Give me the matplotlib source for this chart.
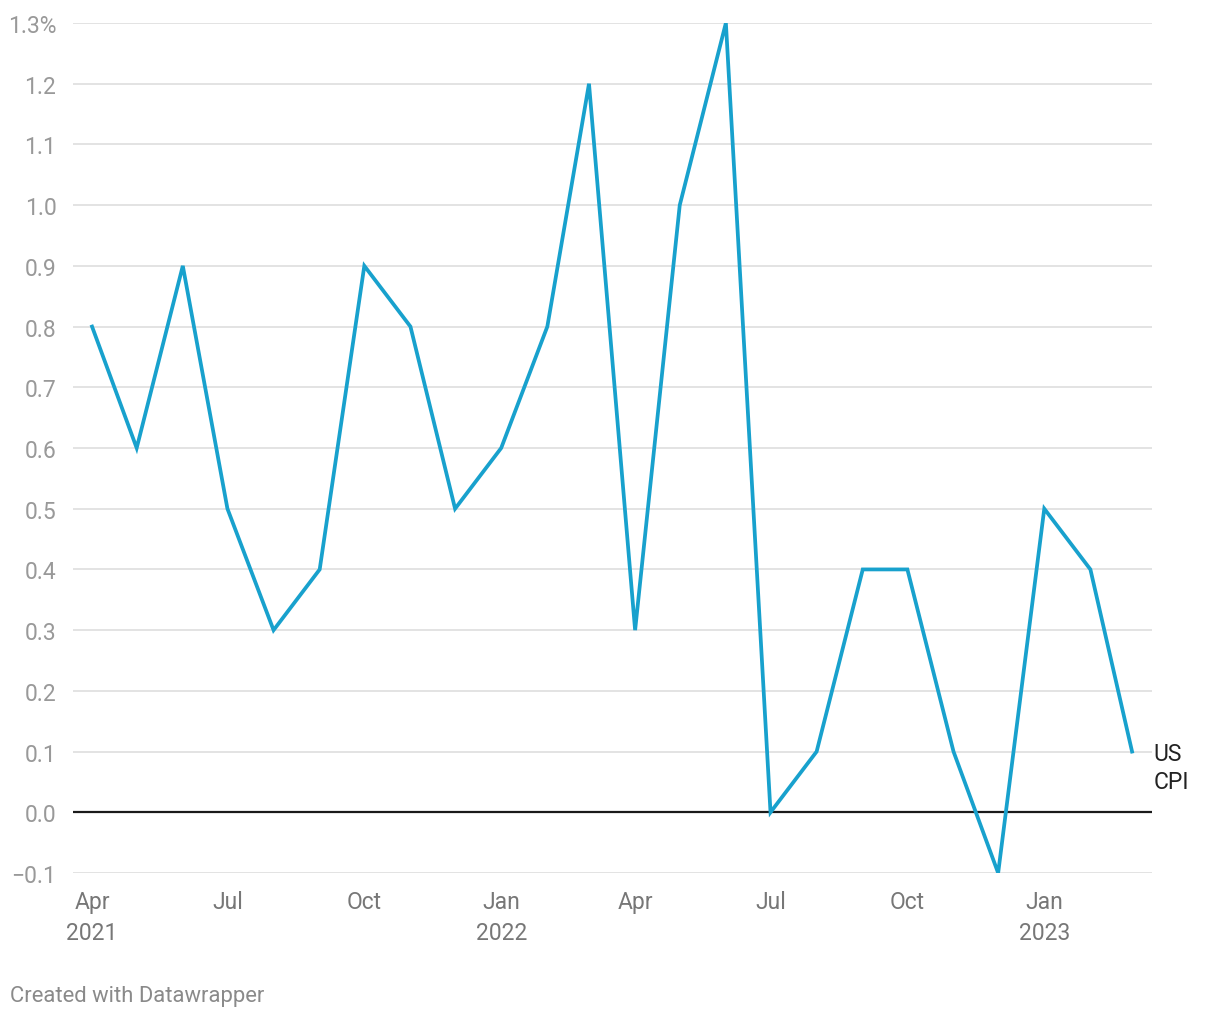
import matplotlib.pyplot as plt
import matplotlib.dates as mdates
import pandas as pd

plt.rcParams['font.family'] = ['Roboto', 'DejaVu Sans']

months = pd.date_range('2021-04-01', '2023-03-01', freq='MS')
cpi = [0.8, 0.6, 0.9, 0.5, 0.3, 0.4, 0.9, 0.8, 0.5, 0.6, 0.8, 1.2,
       0.3, 1.0, 1.3, 0.0, 0.1, 0.4, 0.4, 0.1, -0.1, 0.5, 0.4, 0.1]

yticks = [-0.1, 0.0, 0.1, 0.2, 0.3, 0.4, 0.5, 0.6, 0.7, 0.8, 0.9, 1.0, 1.1, 1.2, 1.3]
xtick_dates = pd.to_datetime(['2021-04-01', '2021-07-01', '2021-10-01', '2022-01-01',
                              '2022-04-01', '2022-07-01', '2022-10-01', '2023-01-01',
                              ])
xtick_labels = ['Apr\n2021', 'Jul', 'Oct', 'Jan\n2022', 'Apr', 'Jul', 'Oct', 'Jan\n2023']

fig = plt.figure(figsize=(12.2, 10.2), dpi=100)
ax = fig.add_axes([73 / 1220, 1 - 874 / 1020, (1152 - 73) / 1220, (874 - 24) / 1020])

for v in yticks:
    if v == 0.0:
        ax.axhline(v, color='#1a1a1a', lw=1.6, zorder=2)
    else:
        ax.axhline(v, color='#e3e3e3', lw=1.4, zorder=1)

ax.plot(months, cpi, color='#18a1cd', lw=2.7, zorder=3, solid_joinstyle='miter')

left = mdates.date2num(months[0]) - 12.8
right = mdates.date2num(months[-1]) + 13.4
ax.set_xlim(left, right)
ax.set_ylim(-0.1, 1.3)

ax.set_yticks(yticks)
ylabels = ['\u22120.1' if v < 0 else f'{v:.1f}' for v in yticks]
ylabels[-1] = '1.3%'
ax.set_yticklabels(ylabels)
ax.set_xticks(mdates.date2num(xtick_dates))
ax.set_xticklabels(xtick_labels, linespacing=1.45)

ax.tick_params(axis='y', length=0, pad=12, labelsize=16.5, labelcolor='#999999')
ax.tick_params(axis='x', length=0, pad=12, labelsize=16.5, labelcolor='#777777')
for lbl in ax.get_xticklabels():
    lbl.set_verticalalignment('top')

for s in ax.spines.values():
    s.set_visible(False)

ax.text(1.0015, 0.2 / 1.4 + 0.011, 'US\nCPI', transform=ax.transAxes,
        ha='left', va='top', fontsize=16.5, color='#222222', linespacing=1.25)

fig.text(10 / 1220, 1 - 997 / 1020, 'Created with Datawrapper', fontsize=15.8,
         color='#8a8a8a', ha='left', va='center')

fig.savefig('out.png', dpi=100)
